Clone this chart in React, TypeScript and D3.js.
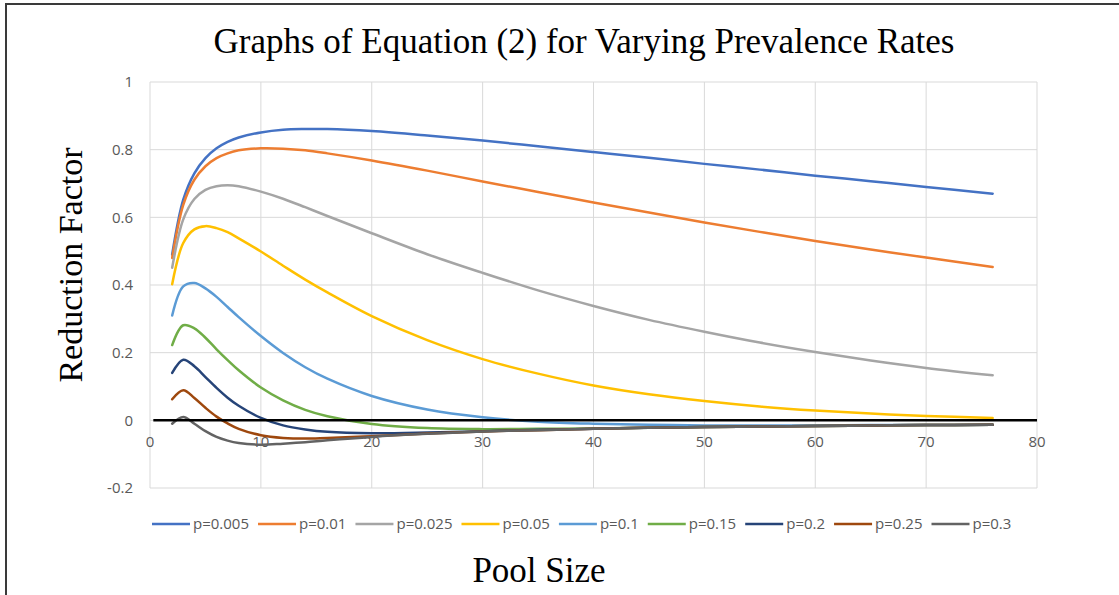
import React, { useRef, useEffect } from "react";
import * as d3 from "d3";

// pool sizes where values were read
const poolSizes = [2, 3, 4, 5, 6, 7, 8, 10, 12, 14, 16, 20, 25, 30, 35, 40, 45, 50, 55, 60, 65, 70, 76];

const p005 = [0.49, 0.652, 0.73, 0.775, 0.804, 0.823, 0.836, 0.851, 0.859, 0.861, 0.861, 0.855, 0.842, 0.827, 0.81, 0.793, 0.776, 0.758, 0.741, 0.723, 0.707, 0.69, 0.67];
const p01 = [0.48, 0.637, 0.711, 0.751, 0.775, 0.789, 0.798, 0.804, 0.803, 0.798, 0.789, 0.768, 0.738, 0.706, 0.675, 0.644, 0.614, 0.585, 0.557, 0.53, 0.505, 0.481, 0.453];
const p025 = [0.451, 0.594, 0.654, 0.681, 0.692, 0.695, 0.692, 0.676, 0.655, 0.63, 0.604, 0.553, 0.491, 0.436, 0.384, 0.338, 0.297, 0.262, 0.23, 0.202, 0.177, 0.155, 0.133];
const p05 = [0.4025, 0.524, 0.5645, 0.574, 0.568, 0.556, 0.538, 0.499, 0.457, 0.416, 0.378, 0.308, 0.237, 0.181, 0.138, 0.103, 0.077, 0.057, 0.041, 0.029, 0.02, 0.013, 0.007];
const p1 = [0.31, 0.396, 0.406, 0.39, 0.365, 0.335, 0.305, 0.249, 0.199, 0.157, 0.123, 0.072, 0.032, 0.009, -0.004, -0.01, -0.013, -0.015, -0.015, -0.015, -0.014, -0.014, -0.013];
const p15 = [0.2225, 0.281, 0.272, 0.244, 0.21, 0.178, 0.148, 0.097, 0.059, 0.031, 0.012, -0.011, -0.023, -0.026, -0.025, -0.024, -0.022, -0.02, -0.018, -0.017, -0.015, -0.014, -0.013];
const p2 = [0.14, 0.179, 0.16, 0.128, 0.096, 0.067, 0.043, 0.007, -0.015, -0.027, -0.034, -0.038, -0.036, -0.032, -0.028, -0.025, -0.022, -0.02, -0.018, -0.017, -0.015, -0.014, -0.013];
const p25 = [0.0625, 0.089, 0.066, 0.037, 0.011, -0.009, -0.025, -0.044, -0.052, -0.054, -0.052, -0.047, -0.039, -0.033, -0.029, -0.025, -0.022, -0.02, -0.018, -0.017, -0.015, -0.014, -0.013];
const p3 = [-0.01, 0.01, -0.01, -0.032, -0.049, -0.06, -0.067, -0.072, -0.069, -0.065, -0.059, -0.049, -0.04, -0.033, -0.029, -0.025, -0.022, -0.02, -0.018, -0.017, -0.015, -0.014, -0.013];

const seriesNames = ["p=0.005", "p=0.01", "p=0.025", "p=0.05", "p=0.1", "p=0.15", "p=0.2", "p=0.25", "p=0.3"];
const seriesColors = ["#4472C4", "#ED7D31", "#A5A5A5", "#FFC000", "#5B9BD5", "#70AD47", "#264478", "#9E480E", "#636363"];
const seriesValues = [p005, p01, p025, p05, p1, p15, p2, p25, p3];

const xTicks = [0, 10, 20, 30, 40, 50, 60, 70, 80];
const yTicks = [-0.2, 0, 0.2, 0.4, 0.6, 0.8, 1];
const yTickLabels = ["-0.2", "0", "0.2", "0.4", "0.6", "0.8", "1"];

const W = 1119;
const H = 595;
const tickFont = "'Open Sans', sans-serif";
const serif = "'Liberation Serif', 'Times New Roman', serif";

const App = () => {
  const svgRef = useRef<SVGSVGElement>(null);

  useEffect(() => {
    const svg = d3.select(svgRef.current);
    svg.selectAll("*").remove();

    const x = d3.scaleLinear().domain([0, 80]).range([150, 1037]);
    const y = d3.scaleLinear().domain([-0.2, 1]).range([488, 82]);

    svg.append("rect").attr("width", W).attr("height", H).attr("fill", "#fff");

    // outer frame
    svg
      .append("rect")
      .attr("x", 6)
      .attr("y", 4)
      .attr("width", W + 10)
      .attr("height", H + 10)
      .attr("fill", "none")
      .attr("stroke", "#3a3a3a")
      .attr("stroke-width", 2);

    // gridlines
    const grid = svg.append("g");
    grid
      .selectAll(".gx")
      .data(xTicks)
      .enter()
      .append("line")
      .attr("x1", (d) => x(d))
      .attr("x2", (d) => x(d))
      .attr("y1", y(1))
      .attr("y2", y(-0.2))
      .attr("stroke", "#d9d9d9")
      .attr("stroke-width", 1);
    grid
      .selectAll(".gy")
      .data(yTicks)
      .enter()
      .append("line")
      .attr("x1", x(0))
      .attr("x2", x(80))
      .attr("y1", (d) => y(d))
      .attr("y2", (d) => y(d))
      .attr("stroke", "#d9d9d9")
      .attr("stroke-width", 1);

    // y tick labels
    svg
      .append("g")
      .selectAll("text")
      .data(yTicks)
      .enter()
      .append("text")
      .attr("x", 133)
      .attr("y", (d) => y(d))
      .attr("dy", "0.35em")
      .attr("text-anchor", "end")
      .attr("font-family", tickFont)
      .attr("font-size", 15)
      .attr("fill", "#595959")
      .text((_, i) => yTickLabels[i]);

    // x tick labels (axis crosses at 0)
    svg
      .append("g")
      .selectAll("text")
      .data(xTicks)
      .enter()
      .append("text")
      .attr("x", (d) => x(d))
      .attr("y", y(0) + 21)
      .attr("dy", "0.35em")
      .attr("text-anchor", "middle")
      .attr("font-family", tickFont)
      .attr("font-size", 15)
      .attr("fill", "#595959")
      .text((d) => d);

    // series lines
    const lineGen = d3
      .line<number>()
      .x((_, i) => x(poolSizes[i]))
      .y((d) => y(d))
      .curve(d3.curveCatmullRom.alpha(0.5));

    svg
      .append("g")
      .selectAll("path")
      .data(seriesValues)
      .enter()
      .append("path")
      .attr("d", (d) => lineGen(d))
      .attr("fill", "none")
      .attr("stroke", (_, i) => seriesColors[i])
      .attr("stroke-width", 2.5)
      .attr("stroke-linejoin", "round")
      .attr("stroke-linecap", "round");

    // zero line
    svg
      .append("line")
      .attr("x1", x(0.3))
      .attr("x2", x(80))
      .attr("y1", y(0))
      .attr("y2", y(0))
      .attr("stroke", "#000")
      .attr("stroke-width", 2.5);

    // title
    svg
      .append("text")
      .attr("x", 584)
      .attr("y", 53)
      .attr("text-anchor", "middle")
      .attr("font-family", serif)
      .attr("font-size", 35)
      .attr("fill", "#000")
      .text("Graphs of Equation (2) for Varying Prevalence Rates");

    // axis titles
    svg
      .append("text")
      .attr("transform", `translate(82, 265) rotate(-90)`)
      .attr("text-anchor", "middle")
      .attr("font-family", serif)
      .attr("font-size", 34)
      .attr("fill", "#000")
      .text("Reduction Factor");

    svg
      .append("text")
      .attr("x", 539)
      .attr("y", 582)
      .attr("text-anchor", "middle")
      .attr("font-family", serif)
      .attr("font-size", 35)
      .attr("fill", "#000")
      .text("Pool Size");

    // legend
    const legend = svg.append("g");
    let lx = 152;
    const ly = 524;
    seriesNames.forEach((name, i) => {
      legend
        .append("line")
        .attr("x1", lx)
        .attr("x2", lx + 38)
        .attr("y1", ly)
        .attr("y2", ly)
        .attr("stroke", seriesColors[i])
        .attr("stroke-width", 2.5);
      const t = legend
        .append("text")
        .attr("x", lx + 41)
        .attr("y", ly)
        .attr("dy", "0.35em")
        .attr("font-family", tickFont)
        .attr("font-size", 15)
        .attr("fill", "#595959")
        .text(name);
      const tw = (t.node() as SVGTextElement).getComputedTextLength();
      lx += 41 + tw + 9;
    });
  }, []);

  return (
    <svg
      ref={svgRef}
      width={W}
      height={H}
      style={{ position: "absolute", left: 0, top: 0 }}
    />
  );
};

export default App;
